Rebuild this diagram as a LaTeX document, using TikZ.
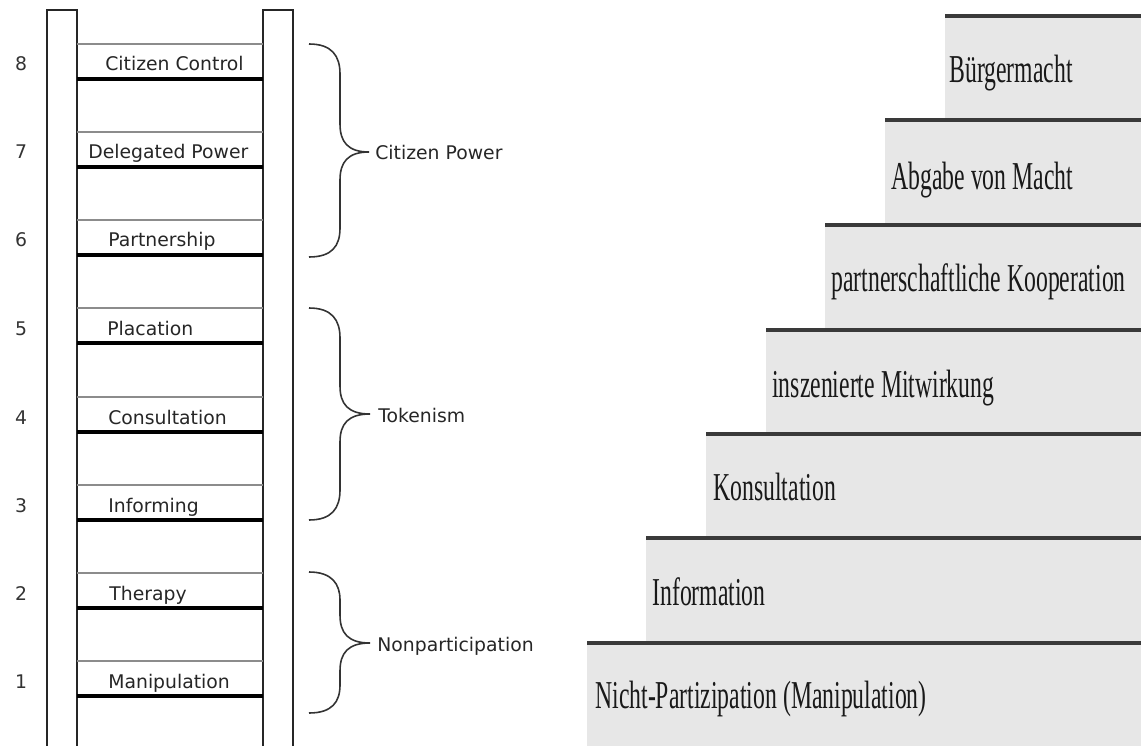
\documentclass[tikz,border=0pt]{standalone}
\usepackage{fontspec}
\usepackage{graphicx}
\usepackage{tikz}

\newfontfamily\ladderfont{DejaVu Sans}
\newfontfamily\stairfont{Liberation Serif}
\definecolor{stepgray}{RGB}{231,231,231}
\definecolor{stepedge}{RGB}{58,58,58}

\begin{document}
\begin{tikzpicture}[x=0.02cm, y=-0.02cm,
    rail/.style={line width=1.3pt, black!85},
    thinrung/.style={line width=0.7pt, black!45},
    thickrung/.style={line width=1.8pt, black},
    rungtext/.style={anchor=base west, inner sep=0pt, black!85,
      font=\ladderfont\fontsize{10.7}{12}\selectfont},
    rungnum/.style={anchor=base, inner sep=0pt, black!80,
      font=\ladderfont\fontsize{10.7}{12}\selectfont},
    curly/.style={line width=0.9pt, black!80},
    stairstep/.style={fill=stepgray, draw=none},
    stairedge/.style={line width=1.9pt, stepedge},
    stairtext/.style={anchor=base west, inner sep=0pt, black!90,
      font=\stairfont\fontsize{22.5}{24}\selectfont}]

    \useasboundingbox (0,0) rectangle (1141,746);

    %ladder rails
    \draw[rail] (47,746) -- (47,10) -- (77,10) -- (77,746);
    \draw[rail] (263,746) -- (263,10) -- (293,10) -- (293,746);

    %rungs
    \draw[thinrung] (77,44) -- (263,44);   \draw[thickrung] (77,79) -- (263,79);
    \draw[thinrung] (77,132) -- (263,132); \draw[thickrung] (77,167) -- (263,167);
    \draw[thinrung] (77,220) -- (263,220); \draw[thickrung] (77,255) -- (263,255);
    \draw[thinrung] (77,308) -- (263,308); \draw[thickrung] (77,343) -- (263,343);
    \draw[thinrung] (77,397) -- (263,397); \draw[thickrung] (77,432) -- (263,432);
    \draw[thinrung] (77,485) -- (263,485); \draw[thickrung] (77,520) -- (263,520);
    \draw[thinrung] (77,573) -- (263,573); \draw[thickrung] (77,608) -- (263,608);
    \draw[thinrung] (77,661) -- (263,661); \draw[thickrung] (77,696) -- (263,696);

    \node[rungtext] (control) at (105,71) {Citizen Control};
    \node[rungtext] (delegated) at (88,159) {Delegated Power};
    \node[rungtext] (partnership) at (108,247) {Partnership};
    \node[rungtext] (placation) at (107,335) {Placation};
    \node[rungtext] (consultation) at (108,424) {Consultation};
    \node[rungtext] (informing) at (108,512) {Informing};
    \node[rungtext] (therapy) at (109,600) {Therapy};
    \node[rungtext] (manipulation) at (108,688) {Manipulation};

    \node[rungnum] (n8) at (21,71) {8};
    \node[rungnum] (n7) at (21,159) {7};
    \node[rungnum] (n6) at (21,247) {6};
    \node[rungnum] (n5) at (21,335) {5};
    \node[rungnum] (n4) at (21,424) {4};
    \node[rungnum] (n3) at (21,512) {3};
    \node[rungnum] (n2) at (21,600) {2};
    \node[rungnum] (n1) at (21,688) {1};

    %braces
    \coordinate (powertip) at (369,152);
    \draw[curly] (309,44) .. controls (332,44) and (340,56) .. (340,74) -- (340,124)
      .. controls (340,142) and (348,152) .. (powertip)
      .. controls (348,152) and (340,162) .. (340,180) -- (340,228)
      .. controls (340,246) and (332,257) .. (309,257);
    \node[rungtext] (power) at (375,160) {Citizen Power};

    \coordinate (tokentip) at (370,414);
    \draw[curly] (309,308) .. controls (332,308) and (340,320) .. (340,338) -- (340,386)
      .. controls (340,404) and (348,414) .. (tokentip)
      .. controls (348,414) and (340,424) .. (340,442) -- (340,490)
      .. controls (340,508) and (332,520) .. (309,520);
    \node[rungtext] (tokenism) at (378,422) {Tokenism};

    \coordinate (nontip) at (370,643);
    \draw[curly] (309,572) .. controls (332,572) and (340,584) .. (340,600) -- (340,615)
      .. controls (340,633) and (348,643) .. (nontip)
      .. controls (348,643) and (340,653) .. (340,671) -- (340,685)
      .. controls (340,702) and (332,713) .. (309,713);
    \node[rungtext] (nonpart) at (377,651) {Nonparticipation};

    %stairs
    \fill[stairstep] (945,16) rectangle (1141,120);
    \fill[stairstep] (885,120) rectangle (1141,225);
    \fill[stairstep] (825,225) rectangle (1141,330);
    \fill[stairstep] (766,330) rectangle (1141,434);
    \fill[stairstep] (706,434) rectangle (1141,538);
    \fill[stairstep] (646,538) rectangle (1141,643);
    \fill[stairstep] (587,643) rectangle (1141,746);

    \draw[stairedge] (945,16) -- (1141,16);
    \draw[stairedge] (885,120) -- (1141,120);
    \draw[stairedge] (825,225) -- (1141,225);
    \draw[stairedge] (766,330) -- (1141,330);
    \draw[stairedge] (706,434) -- (1141,434);
    \draw[stairedge] (646,538) -- (1141,538);
    \draw[stairedge] (587,643) -- (1141,643);

    \node[stairtext] (buerger) at (949,83) {\scalebox{0.6}[1]{Bürgermacht}};
    \node[stairtext] (abgabe) at (891,190) {\scalebox{0.6}[1]{Abgabe von Macht}};
    \node[stairtext] (kooperation) at (831,292) {\scalebox{0.6}[1]{partnerschaftliche Kooperation}};
    \node[stairtext] (mitwirkung) at (772,397) {\scalebox{0.6}[1]{inszenierte Mitwirkung}};
    \node[stairtext] (konsultation) at (713,500) {\scalebox{0.6}[1]{Konsultation}};
    \node[stairtext] (information) at (652,605) {\scalebox{0.6}[1]{Information}};
    \node[stairtext] (nicht) at (595,708) {\scalebox{0.6}[1]{Nicht-Partizipation (Manipulation)}};
\end{tikzpicture}
\end{document}
